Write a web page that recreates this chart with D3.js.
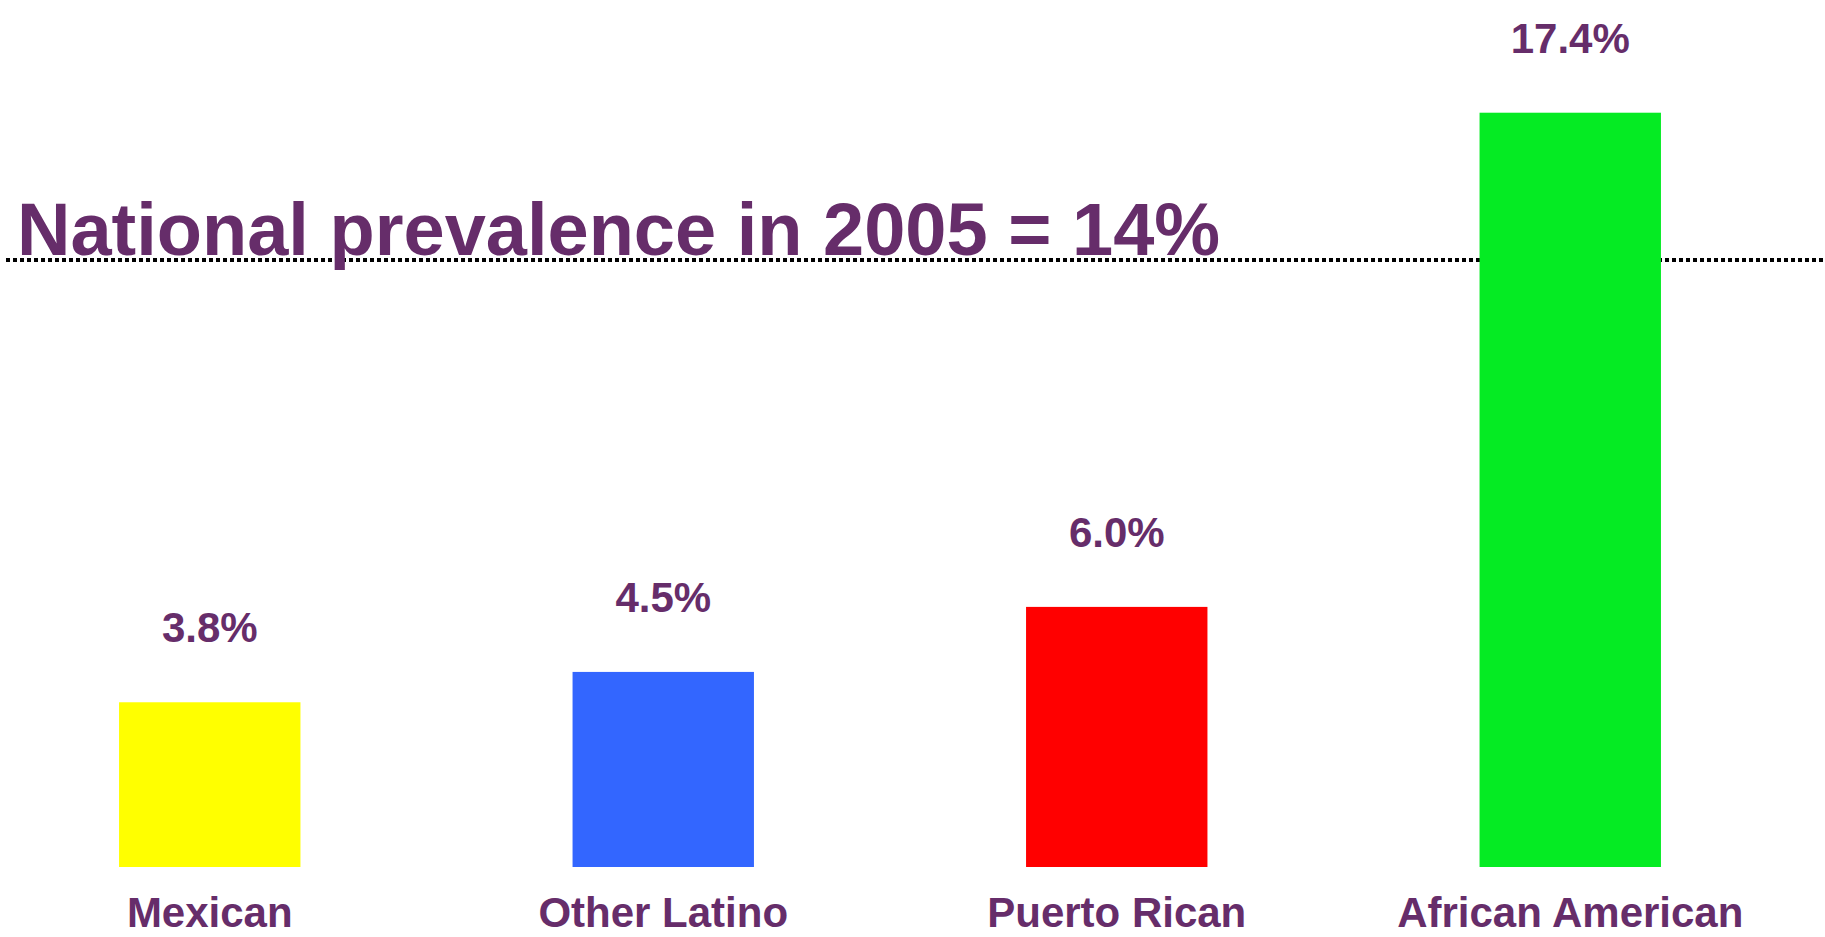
<!DOCTYPE html>
<html>
<head>
<meta charset="utf-8">
<script src="https://cdn.jsdelivr.net/npm/d3@7/dist/d3.min.js"></script>
<style>
  html, body { margin: 0; padding: 0; background: #ffffff; }
  svg { display: block; }
</style>
</head>
<body>
<svg id="chart" width="1825" height="937"></svg>
<script>
// Prevalence by group (percent)
const categories = ["Mexican", "Other Latino", "Puerto Rican", "African American"];
const values = [3.8, 4.5, 6.0, 17.4];
const barColors = ["#ffff00", "#3366ff", "#ff0000", "#05eb23"];
const valueLabels = ["3.8%", "4.5%", "6.0%", "17.4%"];

// National reference line
const nationalValue = 14;
const nationalLabel = "National prevalence in 2005 = 14%";

const W = 1825, H = 937;
const textColor = "#662d6a";
const fontFamily = "'Liberation Sans', Arial, Helvetica, sans-serif";

const svg = d3.select("#chart");

const x = d3.scaleBand()
  .domain(categories)
  .range([-17, 1797])
  .paddingInner(0.6)
  .paddingOuter(0.3);

const y = d3.scaleLinear()
  .domain([0, 20])
  .range([867, 0]);

// soft shadow beneath the reference line
const defs = svg.append("defs");
defs.append("filter")
  .attr("id", "soft")
  .attr("x", "-5%").attr("y", "-300%")
  .attr("width", "110%").attr("height", "700%")
  .append("feGaussianBlur")
  .attr("stdDeviation", 3);

const refY = y(nationalValue);

svg.append("line")
  .attr("x1", 6).attr("x2", W)
  .attr("y1", refY + 10).attr("y2", refY + 10)
  .attr("stroke", "#c4c4c4")
  .attr("stroke-width", 8)
  .attr("filter", "url(#soft)");

svg.append("line")
  .attr("x1", 6).attr("x2", W)
  .attr("y1", refY).attr("y2", refY)
  .attr("stroke", "#000000")
  .attr("stroke-width", 4)
  .attr("stroke-dasharray", "4,3");

// bars
svg.append("g")
  .selectAll("rect")
  .data(categories)
  .join("rect")
  .attr("x", d => x(d))
  .attr("width", x.bandwidth())
  .attr("y", (d, i) => y(values[i]))
  .attr("height", (d, i) => y(0) - y(values[i]))
  .attr("fill", (d, i) => barColors[i]);

// value labels above bars
svg.append("g")
  .selectAll("text")
  .data(categories)
  .join("text")
  .attr("x", d => x(d) + x.bandwidth() / 2)
  .attr("y", (d, i) => y(values[i]) - 60)
  .attr("text-anchor", "middle")
  .attr("font-family", fontFamily)
  .attr("font-weight", "bold")
  .attr("font-size", 42)
  .attr("fill", textColor)
  .text((d, i) => valueLabels[i]);

// category axis labels
const xAxis = d3.axisBottom(x).tickSize(0).tickPadding(0);
const axisG = svg.append("g")
  .attr("transform", `translate(0, ${y(0)})`)
  .call(xAxis);
axisG.select(".domain").remove();
axisG.selectAll("text")
  .attr("dy", null)
  .attr("y", 60)
  .attr("font-family", fontFamily)
  .attr("font-weight", "bold")
  .attr("font-size", 42)
  .attr("fill", textColor);

// national prevalence annotation
svg.append("text")
  .attr("x", 17)
  .attr("y", refY - 5)
  .attr("font-family", fontFamily)
  .attr("font-weight", "bold")
  .attr("font-size", 74)
  .attr("fill", textColor)
  .text(nationalLabel);
</script>
</body>
</html>
